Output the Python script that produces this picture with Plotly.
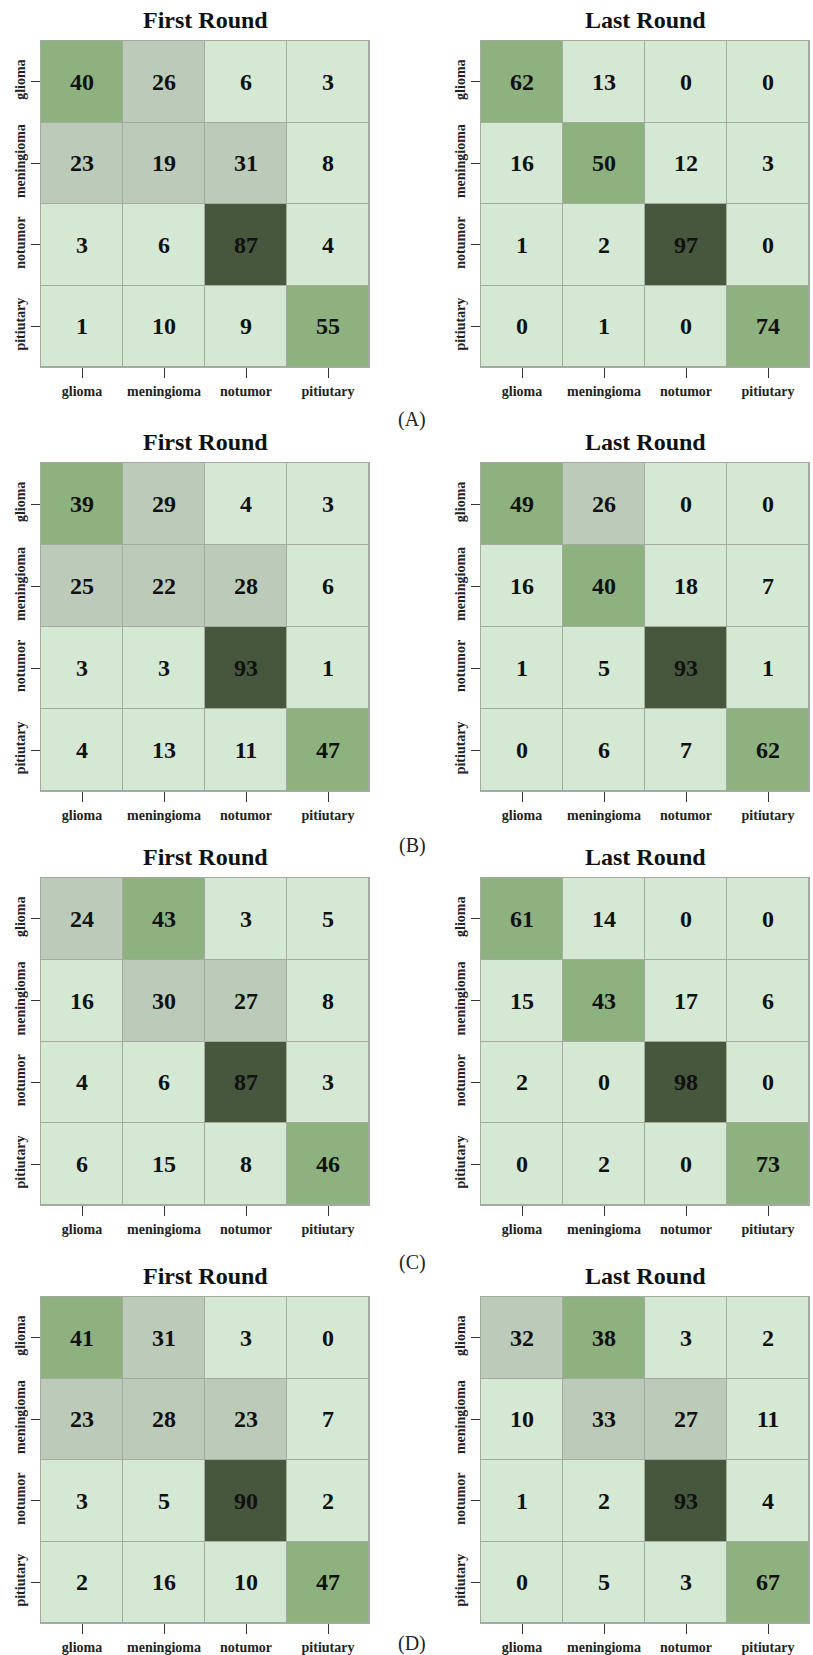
import plotly.graph_objects as go

# Class labels (row = true class, column = predicted class)
classes = ["glioma", "meningioma", "notumor", "pitiutary"]

# Confusion matrices for four experiments, first vs. last training round
a_first = [[40, 26, 6, 3], [23, 19, 31, 8], [3, 6, 87, 4], [1, 10, 9, 55]]
a_last = [[62, 13, 0, 0], [16, 50, 12, 3], [1, 2, 97, 0], [0, 1, 0, 74]]
b_first = [[39, 29, 4, 3], [25, 22, 28, 6], [3, 3, 93, 1], [4, 13, 11, 47]]
b_last = [[49, 26, 0, 0], [16, 40, 18, 7], [1, 5, 93, 1], [0, 6, 7, 62]]
c_first = [[24, 43, 3, 5], [16, 30, 27, 8], [4, 6, 87, 3], [6, 15, 8, 46]]
c_last = [[61, 14, 0, 0], [15, 43, 17, 6], [2, 0, 98, 0], [0, 2, 0, 73]]
d_first = [[41, 31, 3, 0], [23, 28, 23, 7], [3, 5, 90, 2], [2, 16, 10, 47]]
d_last = [[32, 38, 3, 2], [10, 33, 27, 11], [1, 2, 93, 4], [0, 5, 3, 67]]

panel_titles = ["First Round", "Last Round"]
group_labels = ["(A)", "(B)", "(C)", "(D)"]
matrices = [(a_first, a_last), (b_first, b_last), (c_first, c_last), (d_first, d_last)]

W, H = 813, 1655
SERIF = "Liberation Serif, Times New Roman, serif"

# Stepped green palette
LIGHT, GREY, MID, DARK = "#d5e8d4", "#bccbb9", "#8db27f", "#46573e"
colorscale = [
    [0.0, LIGHT], [0.185, LIGHT],
    [0.185, GREY], [0.355, GREY],
    [0.355, MID], [0.80, MID],
    [0.80, DARK], [1.0, DARK],
]

# Pixel geometry of the panels
col_x = [(41, 369), (481, 809)]
row_y = [(41, 367), (463, 791), (878, 1205), (1297, 1623)]
group_label_y = [419, 845, 1262, 1643]


def px_x(x):
    return x / W


def px_y(y):
    return 1 - y / H


fig = go.Figure()
annotations = []

k = 0
for r, pair in enumerate(matrices):
    y0, y1 = row_y[r]
    for c, z in enumerate(pair):
        k += 1
        x0, x1 = col_x[c]
        xa = "x" if k == 1 else f"x{k}"
        ya = "y" if k == 1 else f"y{k}"
        fig.add_trace(go.Heatmap(
            z=z, x=classes, y=classes,
            xaxis=xa, yaxis=ya,
            colorscale=colorscale, zmin=0, zmax=100,
            showscale=False, xgap=1, ygap=1,
            texttemplate="%{z}",
            textfont=dict(family=SERIF, size=24, color="#111111", weight="bold"),
            hoverinfo="skip",
        ))
        axis_common = dict(
            showline=True, mirror=True, linecolor="#a3aba1", linewidth=1,
            ticks="outside", tickcolor="#333333", tickwidth=1,
            showgrid=False, zeroline=False, fixedrange=True,
            tickfont=dict(family=SERIF, size=14, color="#222222", weight="bold"),
        )
        fig.update_layout(**{
            ("xaxis" if k == 1 else f"xaxis{k}"): dict(
                domain=[px_x(x0), px_x(x1)], anchor=ya, ticklen=10,
                ticklabelstandoff=1, **axis_common),
            ("yaxis" if k == 1 else f"yaxis{k}"): dict(
                domain=[px_y(y1), px_y(y0)], anchor=xa, ticklen=9,
                autorange="reversed", tickangle=-90, ticklabelstandoff=0,
                **axis_common),
        })
        annotations.append(dict(
            text=panel_titles[c], xref="paper", yref="paper",
            x=px_x((x0 + x1) / 2), y=px_y(y0 - 21),
            xanchor="center", yanchor="middle", showarrow=False,
            font=dict(family=SERIF, size=24, color="#111111", weight="bold"),
        ))
    annotations.append(dict(
        text=group_labels[r], xref="paper", yref="paper",
        x=px_x(412), y=px_y(group_label_y[r]),
        xanchor="center", yanchor="middle", showarrow=False,
        font=dict(family=SERIF, size=20, color="#222222"),
    ))

fig.update_layout(
    width=W, height=H,
    margin=dict(l=0, r=0, t=0, b=0),
    paper_bgcolor="white", plot_bgcolor="#a3aba1",
    annotations=annotations,
)

fig.write_html("out.html")
